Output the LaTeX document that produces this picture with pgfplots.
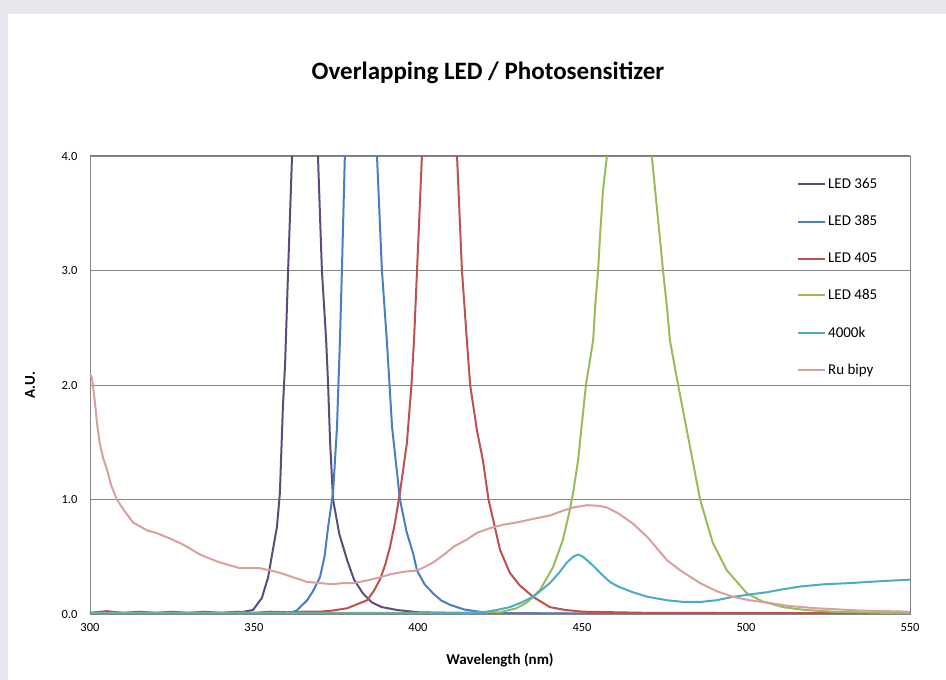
\documentclass[border=0pt]{standalone}
\usepackage{fontspec}
\setmainfont{Carlito}
\usepackage{pgfplots}
\pgfplotsset{compat=1.18}
\definecolor{framegray}{RGB}{231,232,238}
\definecolor{gridgray}{RGB}{134,134,134}
\definecolor{topblue}{RGB}{100,128,160}
\definecolor{rightblue}{RGB}{60,85,120}
\definecolor{ledA}{RGB}{96,74,123}
\definecolor{ledB}{RGB}{74,126,196}
\definecolor{ledC}{RGB}{192,80,77}
\definecolor{ledD}{RGB}{155,187,89}
\definecolor{kcyan}{RGB}{75,172,198}
\definecolor{rupink}{RGB}{217,160,158}

\begin{document}
\begin{tikzpicture}
\useasboundingbox (0,0) rectangle (946pt,680pt);
\fill[framegray] (0,0) rectangle (946pt,680pt);
\fill[white] (8pt,0) rectangle (946pt,666pt);
\node[font=\bfseries\fontsize{25}{30}\selectfont] at (488pt,607pt) {Overlapping LED / Photosensitizer};
\begin{axis}[
    at={(90pt,66pt)}, anchor=south west,
    scale only axis, width=820pt, height=458pt,
    xmin=300, xmax=550, ymin=0, ymax=4,
    xtick={300,350,...,550}, ytick={0,1,...,4},
    /pgf/number format/assume math mode=true,
    tick label style={font=\fontsize{12.5}{15}\selectfont},
    xticklabel style={yshift=-6pt},
    yticklabel style={xshift=-9pt, /pgf/number format/.cd, fixed, fixed zerofill, precision=1},
    major tick length=0pt,
    ymajorgrids, grid style={gridgray, line width=0.8pt},
    axis line style={gridgray, line width=0.8pt},
    xlabel={\textbf{Wavelength (nm)}},
    ylabel={\textbf{A.U.}},
    label style={font=\fontsize{15}{18}\selectfont},
    xlabel style={at={(axis description cs:0.5,-0.1004)}, anchor=center},
    ylabel style={at={(axis description cs:-0.0732,0.5)}, anchor=center},
    legend cell align=left,
    legend style={draw=none, fill=none, font=\fontsize{15}{18}\selectfont,
        at={(rel axis cs:0.8585,0.96)}, anchor=north west, row sep=21.5pt},
    legend image code/.code={\draw[#1] (0pt,0pt) -- (27pt,0pt);},
    every axis plot/.append style={line width=2pt, line join=round},
]
\addplot[ledA] coordinates {
(300,0.01)(320,0.01)(340,0.01)(346,0.015)(349.7,0.035)(352.4,0.14)(354.3,0.32)
(356,0.6)(357.0,0.76)(357.9,1.06)(358.8,1.8)(359.5,2.2)(360.4,3.0)(361.6,4.0)
(364,8)(366,8)(369.5,4.0)(370.7,3.0)(372.0,2.39)(372.6,2.0)(373.2,1.5)(374.1,1.0)
(376,0.7)(378.4,0.47)(380.5,0.3)(383.2,0.18)(386,0.1)(389,0.06)(393.6,0.035)
(400,0.015)(420,0.005)(550,0.0)
};
\addlegendentry{LED 365}
\addplot[ledB] coordinates {
(300,0.0)(360,0.0)(363,0.03)(366.2,0.12)(368,0.2)(370.1,0.32)(371.5,0.5)(372.6,0.76)
(374.1,1.06)(375.3,1.63)(376.2,2.39)(376.8,3.0)(377.7,4.0)(380,9)(385,9)(387.5,4.0)
(389.0,3.0)(390.5,2.39)(392.1,1.63)(394.5,1.0)(396.5,0.72)(398.5,0.53)(399.7,0.38)
(402,0.26)(404.6,0.18)(407,0.12)(409.8,0.08)(414,0.04)(419.8,0.015)(430,0.005)(550,0.0)
};
\addlegendentry{LED 385}
\addplot[ledC] coordinates {
(300,0.01)(305,0.025)(310,0.01)(315,0.02)(320,0.01)(325,0.02)(330,0.01)(335,0.02)
(340,0.01)(345,0.02)(350,0.01)(355,0.02)(360,0.015)(365,0.02)(370,0.02)(374,0.03)
(378.4,0.05)(381,0.08)(384.5,0.12)(386.5,0.2)(388.4,0.30)(390,0.43)(391.5,0.59)
(393,0.8)(394.5,1.06)(396.6,1.49)(398.0,2.0)(398.8,2.4)(399.7,3.0)(401.2,4.0)
(404,9)(409,9)(411.9,4.0)(413.4,3.0)(414.9,2.39)(415.9,2.0)(418,1.6)(419.8,1.34)
(421.5,1.0)(423.5,0.75)(425.0,0.56)(428.0,0.36)(431,0.25)(435.1,0.15)(440.2,0.06)
(445,0.035)(450.3,0.02)(470,0.01)(550,0.005)
};
\addlegendentry{LED 405}
\addplot[ledD] coordinates {
(300,0.01)(400,0.01)(415,0.01)(425,0.015)(430,0.05)(433.2,0.1)(437.2,0.21)(441.2,0.41)
(444.2,0.65)(446.3,0.91)(447.3,1.06)(448.8,1.34)(451.2,2.0)(453.4,2.39)(454.0,2.68)
(454.9,3.0)(455.5,3.3)(456.4,3.7)(457.6,4.0)(460,8)(469,8)(471.3,4.0)(472.3,3.7)
(473.8,3.27)(474.7,3.0)(475.9,2.68)(476.8,2.39)(479.3,2.0)(483,1.45)(486,1.0)
(489.9,0.62)(494.2,0.38)(500.3,0.18)(505,0.11)(511.3,0.06)(518,0.035)(526.5,0.02)(550,0.005)
};
\addlegendentry{LED 485}
\addplot[kcyan] coordinates {
(300,0.005)(400,0.005)(410,0.008)(419.8,0.015)(424,0.035)(428,0.06)(431.5,0.1)
(435.1,0.15)(440.2,0.27)(443,0.36)(445.4,0.45)(447.3,0.5)(448.8,0.52)(450.3,0.5)
(451.5,0.47)(453.5,0.42)(455.5,0.36)(458.5,0.28)(461,0.24)(465.5,0.19)(470,0.15)
(475.9,0.12)(481,0.105)(486.0,0.105)(491,0.12)(496.0,0.15)(501,0.17)(506.4,0.19)
(511,0.215)(516.5,0.24)(524,0.26)(531.7,0.27)(540,0.285)(550,0.30)
};
\addlegendentry{4000k}
\addplot[rupink] coordinates {
(300,2.1)(300.6,2.06)(301.5,1.85)(302.2,1.65)(303.0,1.49)(304,1.36)(305.2,1.26)
(306.5,1.12)(308.2,1.0)(310.5,0.9)(313.1,0.8)(317.4,0.73)(320,0.71)(323.5,0.67)
(327.4,0.62)(330,0.58)(333.5,0.52)(336,0.49)(339.6,0.45)(342,0.43)(345.7,0.40)
(351.8,0.40)(355,0.38)(357.9,0.36)(362,0.32)(366.2,0.28)(370,0.27)(374.1,0.26)
(377,0.27)(380.2,0.27)(384,0.29)(388.4,0.32)(392,0.35)(396,0.37)(399.7,0.38)
(402,0.41)(404.6,0.45)(408,0.52)(411,0.59)(414.9,0.65)(418,0.71)(422.0,0.75)
(426,0.78)(430.2,0.80)(435,0.83)(440.2,0.86)(444,0.9)(447.3,0.93)(451.5,0.95)
(455,0.945)(457.6,0.93)(461,0.88)(465.5,0.79)(470,0.67)(475.9,0.47)(480,0.38)
(486,0.27)(491,0.2)(496,0.15)(501,0.12)(506.4,0.10)(513,0.07)(521.6,0.05)
(535,0.03)(550,0.02)
};
\addlegendentry{Ru bipy}
\draw[topblue, line width=1pt] (rel axis cs:0,1) -- (rel axis cs:1,1);
\draw[rightblue, line width=1pt] (rel axis cs:1,0) -- (rel axis cs:1,1);
\end{axis}
\end{tikzpicture}
\end{document}
